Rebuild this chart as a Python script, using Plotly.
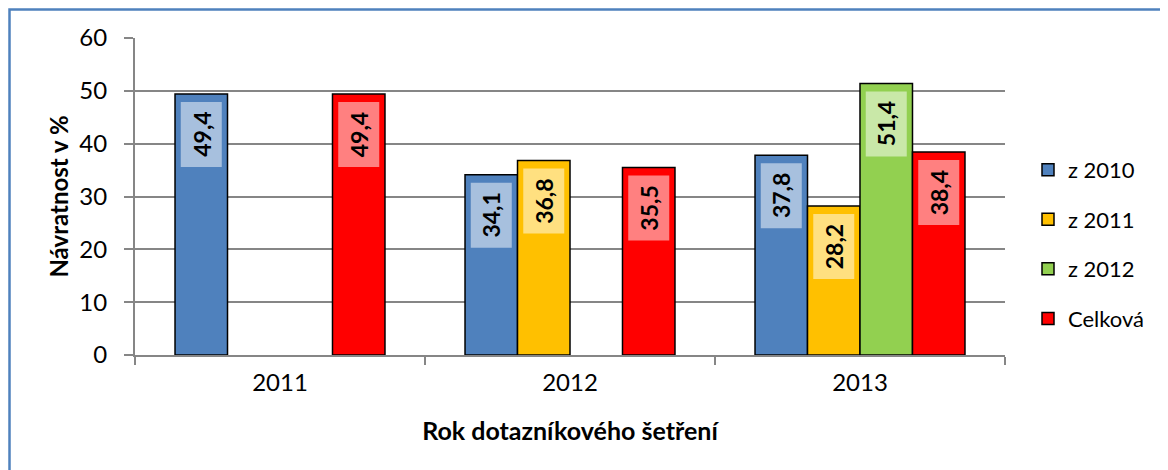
import plotly.graph_objects as go

categories = ["2011", "2012", "2013"]
series_names = ["z 2010", "z 2011", "z 2012", "Celková"]
v_z2010 = [49.4, 34.1, 37.8]
v_z2011 = [None, 36.8, 28.2]
v_z2012 = [None, None, 51.4]
v_celk = [49.4, 35.5, 38.4]
y_ticks = [0, 10, 20, 30, 40, 50, 60]

series_values = [v_z2010, v_z2011, v_z2012, v_celk]
colors = ["#4F81BD", "#FFC000", "#92D050", "#FF0000"]
box_color = "rgba(255,255,255,0.5)"

# page has an 8px body margin; figure sized to compensate
W, H = 1160, 462
ml, mr, mt, mb = 127, 163, 30, 115
bargap = 0.276
FONT = "Lato, 'Open Sans', sans-serif"

fig = go.Figure()
for k, (name, vals, col) in enumerate(zip(series_names, series_values, colors)):
    fig.add_trace(go.Bar(
        x=categories, y=vals, name=name,
        marker=dict(color=col, line=dict(color="#000000", width=1.5)),
        legendgroup=name,
    ))

n = len(series_names)
bw = (1 - bargap) / n
annotations = []
shapes = []
for k, vals in enumerate(series_values):
    for i, v in enumerate(vals):
        if v is None:
            continue
        xc = i + (k - (n - 1) / 2) * bw
        shapes.append(dict(
            type="rect", xref="x", yref="y",
            xsizemode="pixel", xanchor=xc, x0=-20.5, x1=20.5,
            ysizemode="pixel", yanchor=v, y0=-8, y1=-73,
            fillcolor=box_color, line=dict(width=0), layer="above",
        ))
        annotations.append(dict(
            x=xc, y=v, xref="x", yref="y",
            text="<b>" + f"{v:.1f}".replace(".", ",") + "</b>",
            textangle=-90, showarrow=False,
            xanchor="center", yanchor="middle", yshift=-40.5,
            font=dict(family=FONT, size=23, color="#000000"),
        ))

pw = W - ml - mr
ph = H - mt - mb
def px2paper_x(px):
    return (px - ml) / pw
def px2paper_y(py):
    return 1 - (py - mt) / ph

shapes.append(dict(
    type="rect", xref="paper", yref="paper",
    x0=px2paper_x(1.5), y0=px2paper_y(1.5),
    x1=px2paper_x(1200), y1=px2paper_y(500),
    line=dict(color="#4F81BD", width=2.5), fillcolor="rgba(0,0,0,0)",
    layer="below",
))

fig.update_layout(
    width=W, height=H,
    margin=dict(l=ml, r=mr, t=mt, b=mb, pad=0),
    plot_bgcolor="white", paper_bgcolor="white",
    barmode="group", bargap=bargap, bargroupgap=0,
    font=dict(family=FONT, size=22, color="#000000"),
    xaxis=dict(
        type="category", showgrid=False,
        showline=True, linecolor="#868686", linewidth=2,
        ticks="outside", tickson="boundaries", ticklen=8,
        tickcolor="#868686", tickwidth=2,
        tickfont=dict(family=FONT, size=24),
        ticklabelstandoff=5,
        title=dict(text="<b>Rok dotazníkového šetření</b>", font=dict(family=FONT, size=25), standoff=28),
    ),
    yaxis=dict(
        range=[0, 60], tickvals=y_ticks,
        showgrid=True, gridcolor="#868686", gridwidth=1.5,
        showline=True, linecolor="#868686", linewidth=2,
        ticks="outside", ticklen=9, tickcolor="#868686", tickwidth=2,
        tickfont=dict(family=FONT, size=24),
        ticklabelstandoff=12,
        zeroline=False,
        title=dict(text="<b>Návratnost v %</b>", font=dict(family=FONT, size=24), standoff=4),
    ),
    legend=dict(
        x=(1028 - 8 - ml) / pw, y=0.349, xanchor="left", yanchor="middle",
        font=dict(family=FONT, size=22), tracegroupgap=18,
        bgcolor="rgba(0,0,0,0)",
    ),
    annotations=annotations,
    shapes=shapes,
)

fig.write_html("out.html")
